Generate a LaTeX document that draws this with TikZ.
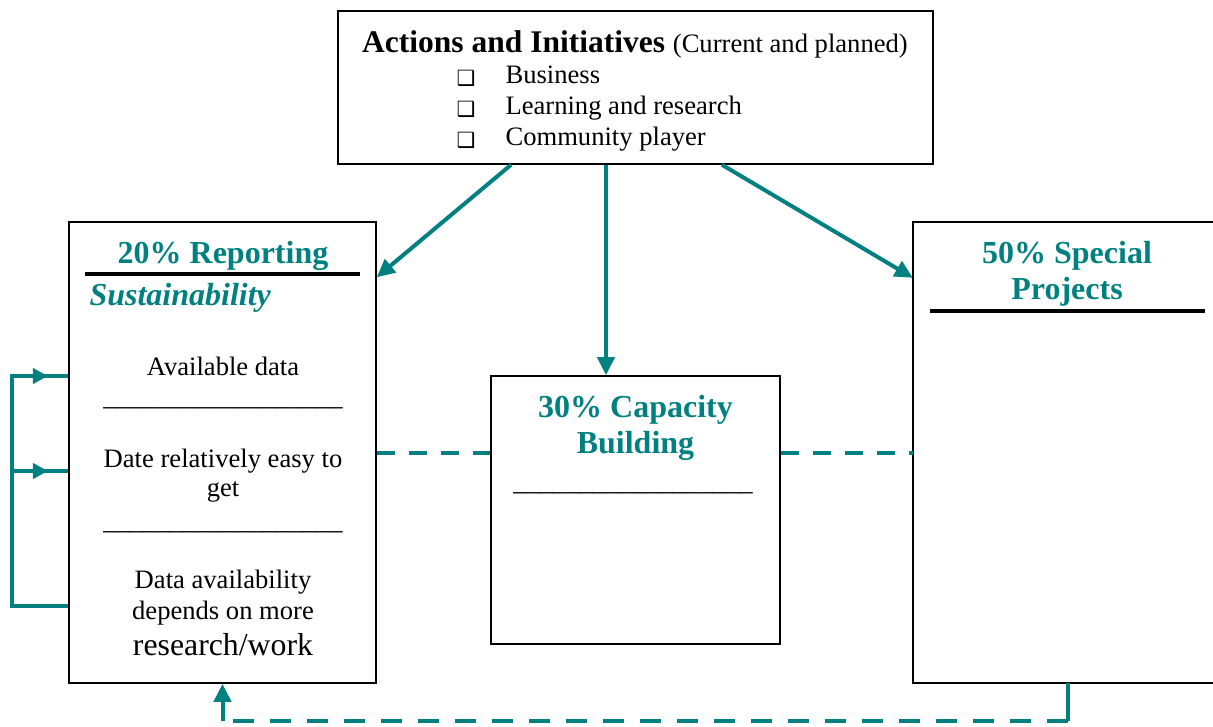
\documentclass[tikz,border=0pt]{standalone}
\usepackage{fontspec}
\setmainfont{Liberation Serif}
\newfontfamily\boxsymbols{DejaVu Sans}
\usetikzlibrary{arrows.meta,decorations.markings}
\definecolor{tealflow}{RGB}{0,128,128}

\begin{document}
\begin{tikzpicture}[x=1pt, y=-1pt,
    panel/.style={draw, line width=1.6pt, inner sep=0pt},
    flowline/.style={tealflow, line width=4pt},
    flow/.style={flowline, -{Triangle[length=18pt,width=17pt]}},
    linkdash/.style={flowline, dash pattern=on 18pt off 14pt},
    backdash/.style={flowline, dash pattern=on 21pt off 16pt},
    midarrow/.style={postaction={decorate}, decoration={markings,
        mark=at position #1 with {\arrow{Triangle[length=15pt,width=15pt]}}}},
    title/.style={text=tealflow, font=\bfseries\fontsize{32}{36}\selectfont, anchor=base},
    body/.style={font=\fontsize{26.6}{30}\selectfont, anchor=base},
    rulebar/.style={line width=4pt}]
    \useasboundingbox (0,0) rectangle (1213,726);

    % Boxes
    \node[panel, minimum width=595pt, minimum height=153pt] (actions) at (635.5,87.5) {};
    \node[panel, minimum width=307pt, minimum height=461pt] (reporting) at (222.5,452.5) {};
    \node[panel, minimum width=289pt, minimum height=268pt] (capacity) at (635.5,510) {};
    \node[inner sep=0pt, minimum width=300pt, minimum height=461pt] (special) at (1063,452.5) {};
    \draw[line width=1.6pt] (special.north east) -- (special.north west) -- (special.south west) -- (special.south east);

    % Actions and initiatives
    \node[anchor=base, font=\bfseries\fontsize{31.5}{36}\selectfont] (actionshead) at (635,52)
        {Actions and Initiatives {\mdseries\fontsize{26.6}{30}\selectfont (Current and planned)}};
    \foreach \entry [count=\i] in {Business, Learning and research, Community player} {
        \node[anchor=base west, font=\boxsymbols\fontsize{21}{24}\selectfont] (check\i) at (453,54+31*\i) {❑};
        \node[body, anchor=base west] (item\i) at (502,52+31*\i) {\entry};
    }

    % Reporting
    \node[title] (reptitle) at (223,263) {20\% Reporting};
    \draw[rulebar] (85,274) -- (360,274);
    \node[title, anchor=base west, font=\bfseries\itshape\fontsize{32}{36}\selectfont] (repsub) at (86,305) {Sustainability};
    \node[body] (avail) at (223,375) {Available data};
    \node[body] (gapA) at (223,405) {\_\_\_\_\_\_\_\_\_\_\_\_\_\_\_\_\_\_};
    \node[body] (easyA) at (223,467) {Date relatively easy to};
    \node[body] (easyB) at (223,496) {get};
    \node[body] (gapB) at (223,529) {\_\_\_\_\_\_\_\_\_\_\_\_\_\_\_\_\_\_};
    \node[body] (moreA) at (223,588) {Data availability};
    \node[body] (moreB) at (223,619) {depends on more};
    \node[body, font=\fontsize{31.8}{36}\selectfont] (moreC) at (223,655) {research/work};

    % Capacity building
    \node[title] (captitleA) at (635.5,417) {30\% Capacity};
    \node[title] (captitleB) at (635.5,453) {Building};
    \node[body] (gapC) at (633,490) {\_\_\_\_\_\_\_\_\_\_\_\_\_\_\_\_\_\_};

    % Special projects
    \node[title] (spectitleA) at (1067,263) {50\% Special};
    \node[title] (spectitleB) at (1067,299) {Projects};
    \draw[rulebar] (930,311) -- (1205,311);

    % Arrows from actions
    \draw[flow] ([xshift=-124.5pt]actions.south) -- ([yshift=-56pt]reporting.north east);
    \draw[flow] ([xshift=-29.5pt]actions.south) coordinate (drop) -- (drop |- capacity.north);
    \draw[flow] ([xshift=86.5pt]actions.south) -- ([yshift=-56pt]special.north west);

    % Dashed links
    \draw[linkdash] (reporting.east) -- (reporting.east -| capacity.west);
    \draw[linkdash] (reporting.east -| capacity.east) -- (special.west);

    % Feedback on the left
    \coordinate (loopA) at (12,376);
    \coordinate (loopB) at (12,471);
    \coordinate (loopC) at (12,606);
    \draw[flowline] (loopC -| reporting.west) -- (loopC) -- (loopA) -- (loopA -| reporting.west);
    \draw[flowline, midarrow=0.64] (loopA) -- (loopA -| reporting.west);
    \draw[flowline, midarrow=0.64] (loopB) -- (loopB -| reporting.west);

    % Return from special projects
    \coordinate (retA) at ([xshift=5pt]special.south);
    \draw[flowline] (retA) -- (retA |- 0,721) coordinate (retB);
    \draw[backdash] (retB) -- (retB -| reporting.south) coordinate (retC);
    \draw[flow] (retC) -- (reporting.south);
\end{tikzpicture}
\end{document}
